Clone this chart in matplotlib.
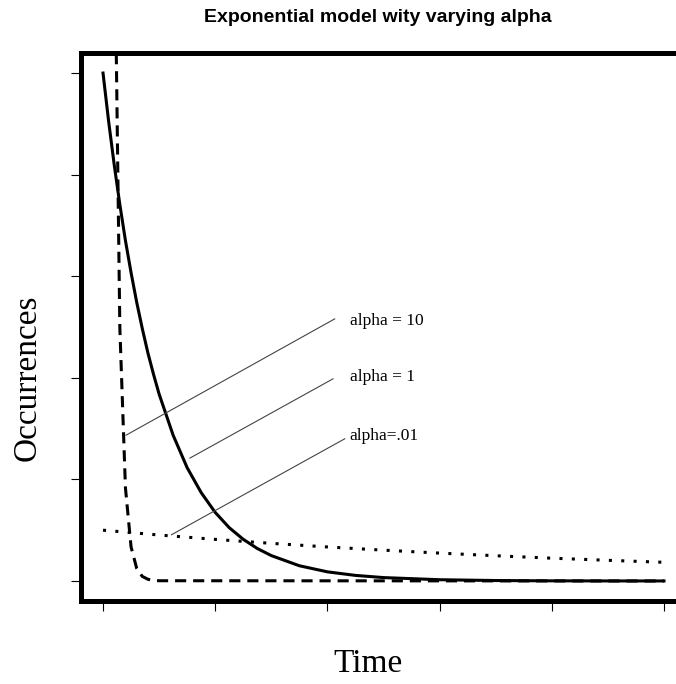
import matplotlib
matplotlib.use("Agg")
import matplotlib.pyplot as plt

# values (time axis 0..10, occurrences 0..1)
t_high = [0.0, 0.1, 0.2, 0.3, 0.4, 0.5, 0.6, 0.7, 0.8, 0.9, 1.0, 10.0]
y_high = [10.0, 3.68, 1.35, 0.498, 0.183, 0.067, 0.025, 0.009, 0.0034, 0.0012, 0.0005, 0.0]

t_mid = [0.0, 0.1, 0.2, 0.3, 0.4, 0.5, 0.6, 0.7, 0.8, 0.9, 1.0,
         1.25, 1.5, 1.75, 2.0, 2.25, 2.5, 2.75, 3.0, 3.5, 4.0, 4.5,
         5.0, 6.0, 7.0, 8.0, 9.0, 10.0]
y_mid = [1.0, 0.905, 0.819, 0.741, 0.670, 0.607, 0.549, 0.497, 0.449, 0.407, 0.368,
         0.287, 0.223, 0.174, 0.135, 0.105, 0.082, 0.064, 0.050, 0.030, 0.018, 0.011,
         0.0067, 0.0025, 0.0009, 0.0003, 0.0001, 0.00005]

t_low = [0, 1, 2, 3, 4, 5, 6, 7, 8, 9, 10]
y_low = [0.100, 0.0905, 0.0819, 0.0741, 0.0670, 0.0607, 0.0549, 0.0497, 0.0449, 0.0407, 0.0368]

x_ticks = [0, 2, 4, 6, 8, 10]
y_ticks = [0, 0.2, 0.4, 0.6, 0.8, 1.0]

# label text, where the pointer lands on the curve, and where the text sits
labels = ["alpha = 10", "alpha = 1", "alpha=.01"]
label_tips = [(0.41, 0.287), (1.55, 0.242), (1.22, 0.091)]
label_tails = [(4.13, 0.516), (4.10, 0.398), (4.31, 0.280)]
label_pos = [(4.40, 0.512), (4.40, 0.401), (4.40, 0.285)]

plt.rcParams["lines.scale_dashes"] = False
serif = ["Liberation Serif", "DejaVu Serif"]

fig = plt.figure(figsize=(6.76, 6.84), dpi=100)
ax = fig.add_axes([0.1192, 0.1209, 0.8962, 0.802])

ax.plot(t_high, y_high, color="black", lw=2.2, linestyle=(0, (8, 5)),
        dash_capstyle="butt")
ax.plot(t_mid, y_mid, color="black", lw=2.2)
ax.plot(t_low, y_low, color="black", lw=2.2, linestyle=(0, (2.2, 6.7)),
        dash_capstyle="butt")

for text, tip, tail, pos in zip(labels, label_tips, label_tails, label_pos):
    ax.plot([tip[0], tail[0]], [tip[1], tail[1]], color="#444444", lw=0.8)
    ax.text(pos[0], pos[1], text, family=serif, fontsize=12.5,
            ha="left", va="center")

ax.set_xlim(-0.4, 10.4)
ax.set_ylim(-0.04, 1.04)
ax.set_xticks(x_ticks)
ax.set_yticks(y_ticks)
ax.set_xticklabels([])
ax.set_yticklabels([])
ax.tick_params(direction="out", length=7.2, width=0.8, top=False, right=False)
for spine in ax.spines.values():
    spine.set_linewidth(3.6)

fig.text(378 / 676, 1 - 18 / 684, "Exponential model wity varying alpha",
         family=["Liberation Sans", "DejaVu Sans"], fontweight="bold",
         fontsize=14, ha="center", va="center")
fig.text(368 / 676, 1 - 664 / 684, "Time", family=serif, fontsize=24,
         ha="center", va="center")
fig.text(27 / 676, 1 - 378 / 684, "Occurrences", family=serif, fontsize=24,
         rotation=90, ha="center", va="center")

fig.savefig("out.png", dpi=100)
